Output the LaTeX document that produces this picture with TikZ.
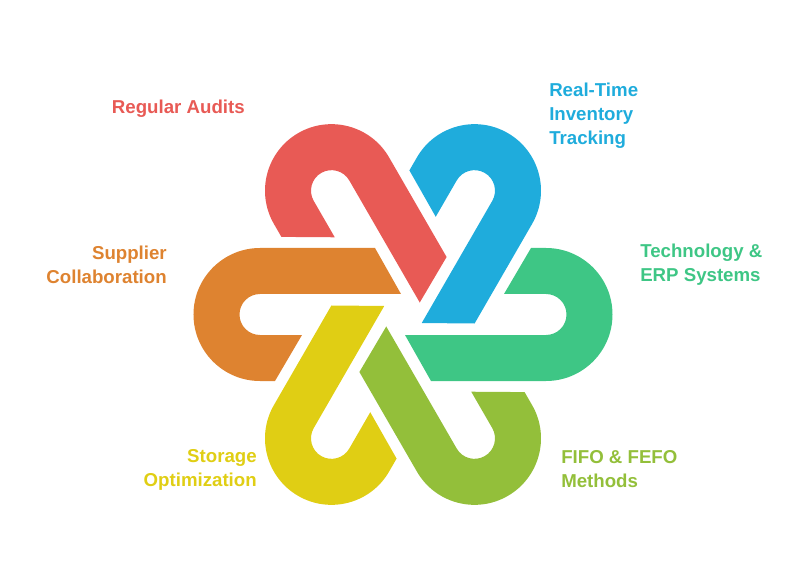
\documentclass[tikz,border=0pt]{standalone}
\usepackage{fontspec}
\setmainfont{Liberation Sans}
\definecolor{hookorange}{HTML}{DE8330}
\definecolor{hookred}{HTML}{E85A55}
\definecolor{hookblue}{HTML}{1FACDC}
\definecolor{hookgreen}{HTML}{3EC685}
\definecolor{hookolive}{HTML}{93BF3A}
\definecolor{hookyellow}{HTML}{E0CE14}
\tikzset{
  lab/.style={inner sep=0pt, font=\fontsize{14}{18}\selectfont\bfseries},
  labl/.style={lab, anchor=west, align=left},
  labr/.style={lab, anchor=east, align=right}
}
\begin{document}
\begin{tikzpicture}[x=0.75pt, y=0.75pt]
        \useasboundingbox (-403, -263.5) rectangle (393, 314.5);
        % one hook, turned six times round the centre
        \foreach \ang/\col in {0/hookorange, -60/hookred, -120/hookblue, -180/hookgreen, -240/hookolive, -300/hookyellow}
          \fill [\col, rotate=\ang] (-143, 66.5) -- (-28, 66.5) -- (-2, 20.5) -- (-143, 20.5)
                arc [start angle=90, end angle=270, radius=20.5]
                -- (-101, -20.5) -- (-128, -66.5) -- (-143, -66.5)
                arc [start angle=270, end angle=90, radius=66.5] -- cycle;

        \node [labr] (audits) at (-158, 205.5) {\textcolor{hookred}{Regular Audits}};
        \node [labl] (tracking) at (146, 199) {\textcolor{hookblue}{Real-Time}\\\textcolor{hookblue}{Inventory}\\\textcolor{hookblue}{Tracking}};
        \node [labl] (erp) at (237, 49.5) {\textcolor{hookgreen}{Technology \&}\\\textcolor{hookgreen}{ERP Systems}};
        \node [labl] (fifo) at (158, -155) {\textcolor{hookolive}{FIFO \& FEFO}\\\textcolor{hookolive}{Methods}};
        \node [labr] (storage) at (-146, -155) {\textcolor{hookyellow}{Storage}\\\textcolor{hookyellow}{Optimization}};
        \node [labr] (supplier) at (-236, 50) {\textcolor{hookorange}{Supplier}\\\textcolor{hookorange}{Collaboration}};
\end{tikzpicture}
\end{document}
